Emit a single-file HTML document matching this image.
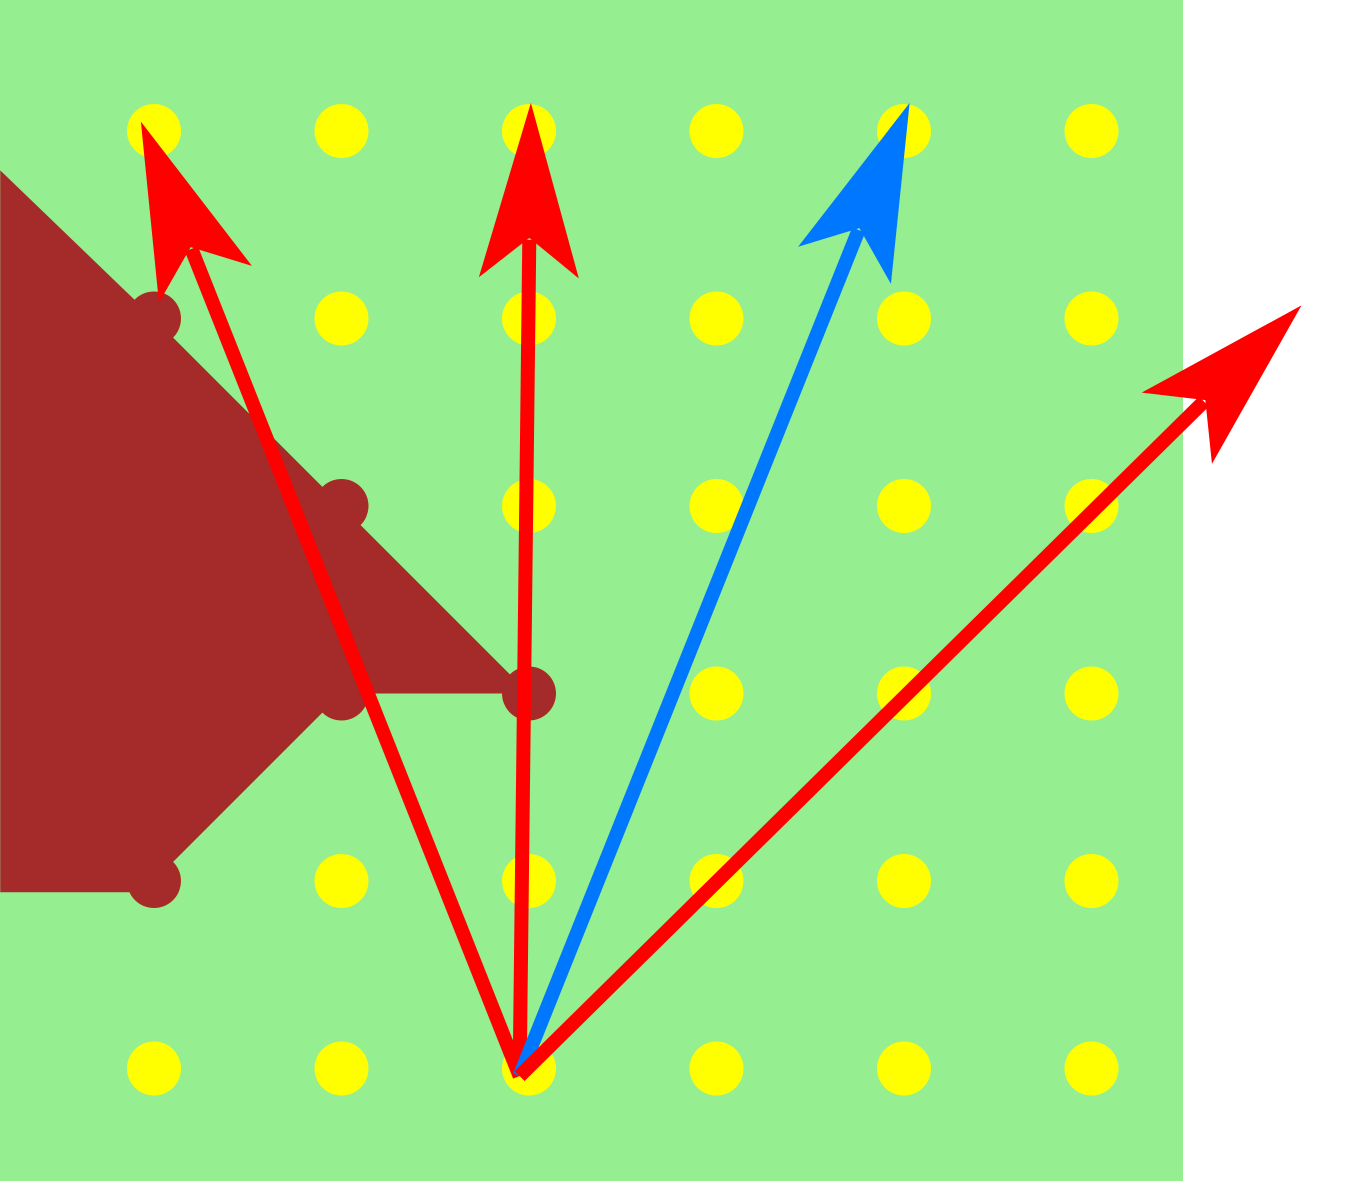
<!DOCTYPE html>
<html><head><meta charset="utf-8">
<style>html,body{margin:0;padding:0;background:#fff;overflow:hidden}svg{display:block}</style>
</head><body>
<svg id="chart" width="1358" height="1181" viewBox="0 0 1358 1181" xmlns="http://www.w3.org/2000/svg">
<rect x="0" y="0" width="1183" height="1181" fill="#95ee90"/>
<g id="dots"></g>
<g id="shape"></g>
<g id="arrows"></g>
</svg>
<script>
const gridCols = [0,1,2,3,4,5];
const gridRows = [0,1,2,3,4,5];
// polygon vertices in grid units (col,row); col -0.82 is the left edge
const polyCols = [-0.82, 0, 1, 2, 1, 0, 0, -0.82];
const polyRows = [0.21, 1, 2, 3, 3, 4, 4.06, 4.06];
const roundedVertexIdx = [1,2,3,4,5];
// vectors: origin in grid units, tips in grid units
const originCol = 1.95, originRow = 5.04;
const tipCols = [-0.07, 2.01, 4.03, 6.12];
const tipRows = [-0.05, -0.15, -0.15, 0.93];
const tipColors = ["#ff0000","#ff0000","#0077ff","#ff0000"];

const NS = "http://www.w3.org/2000/svg";
const x0 = 154, y0 = 131, step = 187.5;
const sx = c => x0 + c*step;
const sy = r => y0 + r*step;

const dots = document.getElementById('dots');
gridRows.forEach(r => gridCols.forEach(c => {
  const e = document.createElementNS(NS,'circle');
  e.setAttribute('cx', sx(c)); e.setAttribute('cy', sy(r)); e.setAttribute('r', 27);
  e.setAttribute('fill', '#ffff00');
  
  
  dots.appendChild(e);
}));

const shape = document.getElementById('shape');
const poly = document.createElementNS(NS,'polygon');
const pts = polyCols.map((c,i)=>Math.max(0,sx(c))+','+sy(polyRows[i]));
poly.setAttribute('points', pts.join(' '));
poly.setAttribute('fill', '#a52a2a');


shape.appendChild(poly);
roundedVertexIdx.forEach(i => {
  const e = document.createElementNS(NS,'circle');
  e.setAttribute('cx', sx(polyCols[i])); e.setAttribute('cy', sy(polyRows[i])); e.setAttribute('r', 27);
  e.setAttribute('fill', '#a52a2a');
  
  
  shape.appendChild(e);
});

const arrows = document.getElementById('arrows');
const ox = sx(originCol), oy = sy(originRow);
tipCols.forEach((c,i) => {
  const tx = sx(c), ty = sy(tipRows[i]);
  const dx = tx-ox, dy = ty-oy, L = Math.hypot(dx,dy);
  const ux = dx/L, uy = dy/L, px = -uy, py = ux;
  const head = 175, notch = 135, hw = 50;
  const g = document.createElementNS(NS,'g');
  
  
  const line = document.createElementNS(NS,'line');
  line.setAttribute('x1', ox); line.setAttribute('y1', oy);
  line.setAttribute('x2', tx-ux*(notch+2)); line.setAttribute('y2', ty-uy*(notch+2));
  line.setAttribute('stroke', tipColors[i]); line.setAttribute('stroke-width', 14);
  
  
  g.appendChild(line);
  const bx = tx-ux*head, by = ty-uy*head;
  const hp = document.createElementNS(NS,'polygon');
  hp.setAttribute('points', [
    tx+','+ty,
    (bx+px*hw)+','+(by+py*hw),
    (tx-ux*notch)+','+(ty-uy*notch),
    (bx-px*hw)+','+(by-py*hw)
  ].join(' '));
  hp.setAttribute('fill', tipColors[i]);
  
  
  g.appendChild(hp);
  arrows.appendChild(g);
});
</script>
</body></html>
